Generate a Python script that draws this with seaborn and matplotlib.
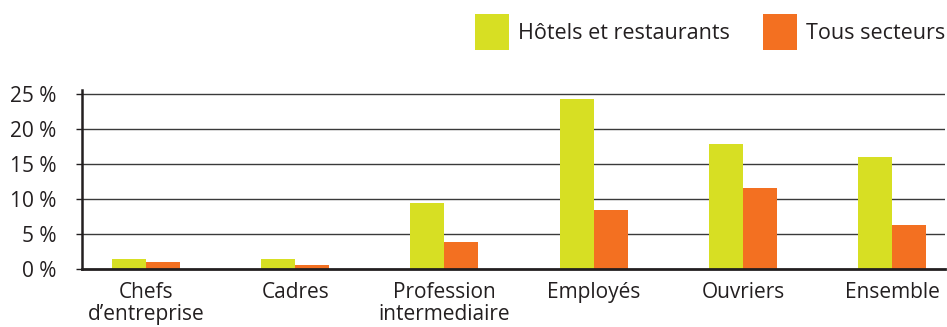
import matplotlib
matplotlib.use("Agg")
import matplotlib.pyplot as plt
import seaborn as sns
import pandas as pd
from matplotlib.patches import Patch

categories = ["Chefs\nd\u2019entreprise", "Cadres", "Profession\nintermediaire",
              "Employés", "Ouvriers", "Ensemble"]
hotels = [1.5, 1.4, 9.4, 24.3, 17.9, 16.0]
tous = [1.0, 0.6, 3.9, 8.4, 11.6, 6.3]
series_names = ["Hôtels et restaurants", "Tous secteurs"]
yticks = [0, 5, 10, 15, 20, 25]
ytick_labels = ["0 %", "5 %", "10 %", "15 %", "20 %", "25 %"]
colors = ["#D7DF23", "#F37021"]

df = pd.DataFrame({
    "cat": categories * 2,
    "val": hotels + tous,
    "serie": [series_names[0]] * len(categories) + [series_names[1]] * len(categories),
})

sns.set_theme(style="white")
plt.rcParams["font.family"] = ["Open Sans", "DejaVu Sans"]
TXT = "#231F20"
FS = 15

fig = plt.figure(figsize=(9.47, 3.27), dpi=100)
ax = fig.add_axes([0.0863, 0.177, 0.9117, 0.548])

sns.barplot(data=df, x="cat", y="val", hue="serie", palette=colors,
            width=0.455, saturation=1, ax=ax, legend=False, zorder=3,
            linewidth=0, edgecolor="none")

ax.set_xlim(-0.43, 5.355)
ax.set_ylim(0, 25.57)
ax.set_yticks(yticks)
ax.set_yticklabels(ytick_labels)
ax.set_xlabel("")
ax.set_ylabel("")

for y in yticks[1:]:
    ax.axhline(y, color="#3a3a3a", lw=1.0, zorder=1)

for s in ["top", "right"]:
    ax.spines[s].set_visible(False)
ax.spines["left"].set_color(TXT)
ax.spines["left"].set_linewidth(1.8)
ax.spines["bottom"].set_color(TXT)
ax.spines["bottom"].set_linewidth(2.0)
ax.spines["bottom"].set_zorder(5)

ax.tick_params(axis="y", left=True, length=4, width=1, color=TXT,
               labelsize=FS, labelcolor=TXT, pad=14)
ax.tick_params(axis="x", bottom=False, labelsize=FS, labelcolor=TXT, pad=3)
for lbl in ax.get_xticklabels():
    lbl.set_linespacing(1.08)

handles = [Patch(facecolor=c, edgecolor="none") for c in colors]
fig.legend(handles, series_names, loc="upper right", bbox_to_anchor=(1.019, 1.016),
           ncol=2, frameon=False, fontsize=15.5, handlelength=1.58, handleheight=2.2,
           handletextpad=0.45, columnspacing=1.5, labelcolor=TXT)

fig.savefig("out.png", dpi=100)
